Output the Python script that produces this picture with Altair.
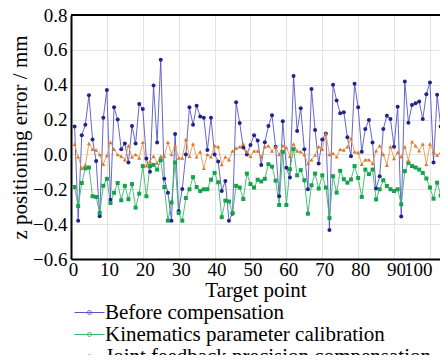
import altair as alt
import pandas as pd

x_points = list(range(1, 105))

before = [0.16, -0.38, 0.11, 0.17, 0.34, 0.086, -0.037, -0.355, 0.21, 0.37,
          -0.26, 0.27, 0.20, 0.03, 0.063, -0.046, 0.163, 0.063, 0.29, 0.26,
          -0.023, -0.10, 0.395, 0.069, 0.543, -0.14, -0.22, -0.38, 0.117, -0.325,
          -0.198, 0.0, 0.27, 0.17, 0.28, 0.217, 0.21, 0.025, 0.21, 0.0,
          -0.04, -0.21, -0.152, -0.38, -0.34, 0.30, 0.18, 0.04, 0.0, 0.054,
          0.11, 0.08, -0.06, 0.07, 0.163, 0.225, 0.044, -0.24, 0.19, -0.077,
          -0.133, 0.45, 0.134, 0.265, 0.029, -0.2, 0.375, 0.14, -0.052, 0.086,
          0.12, -0.434, 0.40, 0.31, 0.236, 0.242, 0.098, -0.01, 0.405, 0.27,
          0.015, 0.146, 0.198, 0.069, -0.196, -0.125, 0.146, 0.222, 0.203, 0.044,
          0.274, -0.356, 0.418, 0.182, 0.284, 0.294, 0.303, 0.203, 0.346, 0.413,
          -0.046, 0.342, 0.16, -0.094]

kinematic = [-0.187, -0.296, -0.164, -0.08, -0.075, -0.24, -0.244, -0.336, -0.18, -0.14,
             -0.279, -0.22, -0.164, -0.263, -0.18, -0.257, -0.17, -0.305, -0.225, -0.067,
             -0.24, -0.067, -0.06, -0.087, -0.033, -0.187, -0.38, -0.276, -0.046, -0.336,
             -0.38, -0.25, -0.2, -0.13, -0.187, -0.21, -0.2, -0.2, -0.145, -0.106,
             -0.16, -0.36, -0.265, -0.27, -0.336, -0.18, -0.19, -0.256, -0.11, -0.17,
             -0.19, -0.145, -0.155, -0.14, -0.056, -0.07, -0.15, -0.29, 0.015, -0.29,
             -0.085, 0.03, -0.12, -0.09, -0.148, -0.34, -0.177, -0.11, -0.196, -0.12,
             -0.19, -0.365, -0.125, -0.219, -0.094, -0.142, -0.162, -0.144, -0.067, -0.135,
             -0.244, -0.087, -0.113, -0.087, -0.258, -0.2, -0.148, -0.181, -0.2, -0.21,
             -0.2, -0.286, -0.096, -0.048, -0.067, -0.075, -0.087, -0.106, -0.138, -0.19,
             -0.254, -0.162, -0.235, -0.171]

joint = [0.058, -0.014, -0.08, -0.06, 0.063, 0.03, 0.025, 0.0, -0.056, -0.006,
         0.07, 0.03, 0.0, -0.01, -0.03, 0.05, -0.015, 0.0, -0.02, 0.07,
         -0.065, -0.04, -0.01, -0.05, -0.01, -0.01, 0.07, 0.0, 0.05, -0.02,
         -0.02, 0.086, -0.01, 0.06, -0.014, 0.015, -0.08, 0.0, -0.014, 0.05,
         0.044, -0.058, -0.014, -0.03, 0.02, 0.035, 0.044, 0.06, 0.015, -0.01,
         0.02, 0.02, -0.014, 0.044, 0.05, 0.02, 0.044, 0.0, 0.05, 0.04,
         -0.01, 0.06, 0.02, 0.015, 0.0, -0.052, -0.03, -0.004, 0.044, 0.03,
         0.12, 0.0, 0.006, -0.014, 0.029, 0.025, 0.044, 0.092, 0.015, 0.011,
         -0.056, -0.03, -0.03, -0.052, 0.021, 0.05, 0.0, -0.062, 0.044, -0.023,
         0.011, -0.014, 0.044, -0.037, 0.073, 0.05, 0.021, 0.06, -0.056, 0.06,
         0.015, -0.004, 0.011, 0.04]

series_names = ["Before compensation", "Kinematics parameter calibration",
                "Joint feedback precision compensation"]
line_colors = ["#5656c4", "#37b86c", "#e8984e"]
point_colors = ["#22228c", "#14a34c", "#d9782a"]
x_ticks = [0, 10, 20, 30, 40, 50, 60, 70, 80, 90, 100]
y_ticks = [-0.6, -0.4, -0.2, 0.0, 0.2, 0.4, 0.6, 0.8]
frame_top = [0.8]

rows = []
for name, vals in zip(series_names, [before, kinematic, joint]):
    for xi, v in zip(x_points, vals):
        rows.append({"point": xi, "error": v, "series": name})
df = pd.DataFrame(rows)

FONT = "Liberation Serif"
X_MAX = 102.8

x_scale = alt.Scale(domain=[0, X_MAX], nice=False, zero=False)
y_scale = alt.Scale(domain=[-0.6, 0.8], nice=False, zero=False)

x_axis = alt.Axis(values=x_ticks, title="Target point", format="d",
                  labelFontSize=19, titleFontSize=21, labelPadding=1,
                  titlePadding=0, ticks=False, domainColor="black",
                  domainWidth=2, gridColor="#e3e3e3", labelColor="black",
                  titleColor="black", titleFontWeight="normal",
                  labelOverlap=False, labelFont=FONT, titleFont=FONT,
                  labelOffset=2,
                  labelAlign={"condition": {"test": "datum.value === 100", "value": "right"},
                              "value": "center"})
y_axis = alt.Axis(values=y_ticks, title="z positioning error / mm", format=".1f",
                  labelFontSize=19, titleFontSize=21, labelPadding=4,
                  titlePadding=2, ticks=False, domainColor="black",
                  domainWidth=2, gridColor="#e3e3e3", labelColor="black",
                  titleColor="black", titleFontWeight="normal",
                  labelOverlap=False, labelFont=FONT, titleFont=FONT)

x_enc = alt.X("point:Q", scale=x_scale, axis=x_axis)
y_enc = alt.Y("error:Q", scale=y_scale, axis=y_axis)

legend_path = "M-3,0L3,0M-0.4,0a0.4,0.4 0 1,0 0.8,0a0.4,0.4 0 1,0 -0.8,0"

lines = alt.Chart(df).mark_line(strokeWidth=0.9, clip=True).encode(
    x=x_enc, y=y_enc,
    color=alt.Color("series:N", scale=alt.Scale(domain=series_names, range=line_colors),
                    legend=alt.Legend(orient="none", legendX=8, legendY=287, title=None,
                                      direction="vertical", symbolType=legend_path,
                                      symbolSize=100, symbolStrokeWidth=1,
                                      labelFont=FONT, labelFontSize=21, labelColor="black",
                                      rowPadding=0, labelOffset=5, labelLimit=500)),
    order="point:Q",
    detail="series:N",
)

points = alt.Chart(df).mark_point(filled=True, opacity=1, size=16, clip=True).encode(
    x=x_enc, y=y_enc,
    color=alt.Color("series:N", scale=alt.Scale(domain=series_names, range=point_colors),
                    legend=None),
    shape=alt.Shape("series:N", scale=alt.Scale(domain=series_names,
                                                range=["circle", "square", "triangle-up"]),
                    legend=None),
)

top_line = alt.Chart(pd.DataFrame({"error": frame_top})).mark_rule(
    color="black", strokeWidth=2).encode(y=y_enc)

chart = alt.layer(lines, points, top_line).resolve_scale(
    color="independent", shape="independent"
).properties(
    width=369, height=244,
    autosize=alt.AutoSizeParams(type="none"),
    padding={"left": 63, "top": 7, "right": 0, "bottom": 96},
    background="white",
).configure_view(stroke=None)

chart.save("out.html", embed_options={"renderer": "svg", "actions": False})
